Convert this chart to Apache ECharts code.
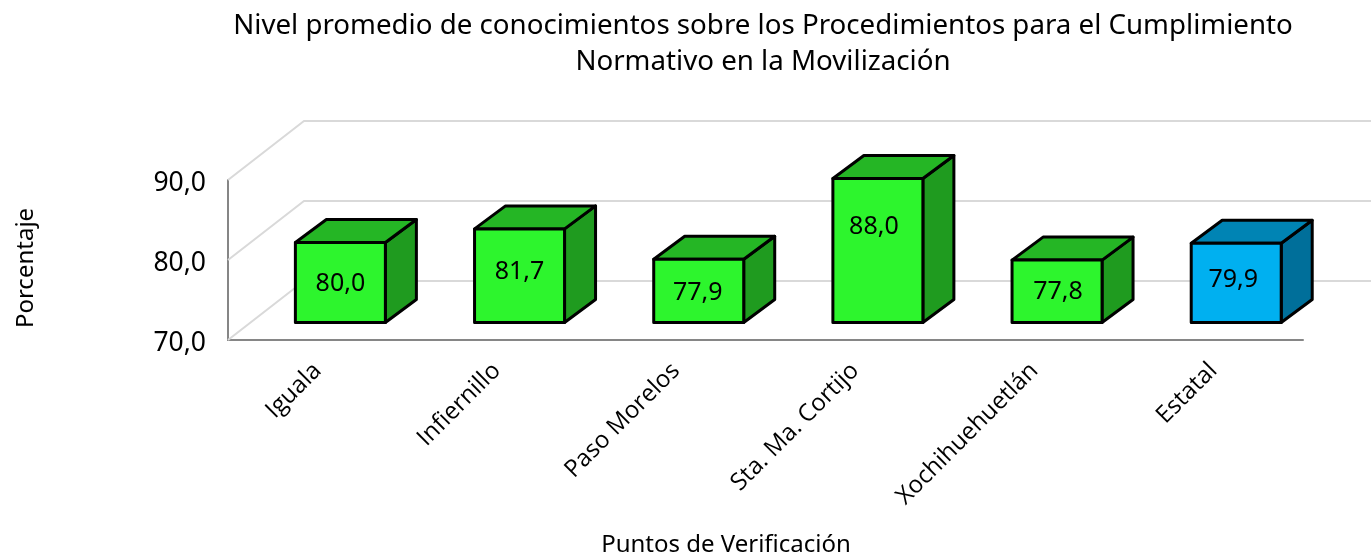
<!DOCTYPE html>
<html>
<head>
<meta charset="utf-8">
<style>
  html, body { margin: 0; padding: 0; background: #fff; }
  #chart { width: 1371px; height: 557px; }
</style>
<script src="https://cdn.jsdelivr.net/npm/echarts@6/dist/echarts.min.js"></script>
</head>
<body>
<div id="chart"></div>
<script>
var categories = ['Iguala', 'Infiernillo', 'Paso Morelos', 'Sta. Ma. Cortijo', 'Xochihuehuetlán', 'Estatal'];
var values = [80.0, 81.7, 77.9, 88.0, 77.8, 79.9];
var yTicks = [70, 80, 90];

var font = '"Noto Sans", sans-serif';
var labelFont = '"Open Sans", sans-serif';

// the 3d look: back wall offset and bar depth, in pixels
var wallDx = 76, wallDy = 59;
var barDx = 31, barDy = 23;
var barShiftX = 22.8, barShiftY = 17.5, barHalf = 45;
// where the original sits each value label, relative to the bar face centre
var labelNudge = [[0, 1], [0, -4], [-1, 2], [-4, -24], [1, 1], [-3, -3]];

var green = { front: '#2df52d', top: '#25b625', side: '#1f9b1f' };
var blue = { front: '#00b0f0', top: '#0084b4', side: '#006f9a' };

function renderWall(params, api) {
  var v = api.value(1);
  var start = api.coord([0, v]);
  var band = api.size([1, 0])[0];
  var x0 = start[0] - band / 2;
  var y0 = start[1];
  var x1 = x0 + wallDx;
  var y1 = y0 - wallDy;
  var x2 = x0 + band * categories.length + wallDx;
  return {
    type: 'polyline',
    shape: { points: [[x0, y0], [x1, y1], [x2, y1]] },
    style: { fill: null, stroke: '#d9d9d9', lineWidth: 2 }
  };
}

function renderBar(params, api) {
  var i = api.value(0);
  var val = api.value(1);
  var top = api.coord([i, val]);
  var base = api.coord([i, yTicks[0]]);
  var cx = top[0] + barShiftX;
  var l = cx - barHalf, r = cx + barHalf;
  var t = top[1] - barShiftY, b = base[1] - barShiftY;
  var c = categories[i] === 'Estatal' ? blue : green;
  var edge = { stroke: '#000', lineWidth: 3, lineJoin: 'round' };
  var nudge = labelNudge[i];
  return {
    type: 'group',
    children: [
      { type: 'polygon', shape: { points: [[r, t], [r + barDx, t - barDy], [r + barDx, b - barDy], [r, b]] },
        style: Object.assign({ fill: c.side }, edge) },
      { type: 'polygon', shape: { points: [[l, t], [l + barDx, t - barDy], [r + barDx, t - barDy], [r, t]] },
        style: Object.assign({ fill: c.top }, edge) },
      { type: 'rect', shape: { x: l, y: t, width: r - l, height: b - t },
        style: Object.assign({ fill: c.front }, edge) },
      { type: 'text',
        style: {
          x: cx + nudge[0], y: (t + b) / 2 + nudge[1],
          text: val.toFixed(1).replace('.', ','),
          fill: '#000', font: '25px ' + font, align: 'center', verticalAlign: 'middle'
        } }
    ]
  };
}

var chart = echarts.init(document.getElementById('chart'), null, { renderer: 'canvas' });
chart.setOption({
  animation: false,
  backgroundColor: '#fff',
  title: {
    text: 'Nivel promedio de conocimientos sobre los Procedimientos para el Cumplimiento\nNormativo en la Movilización',
    left: 758,
    top: 3,
    textAlign: 'center',
    textStyle: { fontFamily: font, fontSize: 27.7, fontWeight: 'normal', color: '#000', lineHeight: 36 }
  },
  grid: { left: 228, right: 68, top: 180, bottom: 217 },
  xAxis: {
    type: 'category',
    data: categories,
    axisTick: { show: false },
    axisLine: { lineStyle: { color: '#868686', width: 2 } },
    axisLabel: { rotate: 45, interval: 0, margin: 27, fontFamily: labelFont, fontSize: 24, color: '#000' }
  },
  yAxis: {
    type: 'value',
    min: 70,
    max: 90,
    interval: 10,
    splitLine: { show: false },
    axisTick: { show: false },
    axisLine: { show: true, lineStyle: { color: '#868686', width: 2 } },
    axisLabel: {
      margin: 22,
      formatter: function (v) { return '{t|' + v.toFixed(1).replace('.', ',') + '}'; },
      rich: {
        t: { fontFamily: font, fontSize: 26.5, color: '#000', padding: [6, 0, 0, 0] }
      }
    }
  },
  graphic: [
    { type: 'text', x: 26, y: 268, rotation: Math.PI / 2,
      style: { text: 'Porcentaje', font: '24px ' + font, fill: '#000', align: 'center', verticalAlign: 'middle' } },
    { type: 'text', x: 726, y: 545,
      style: { text: 'Puntos de Verificación', font: '24px ' + font, fill: '#000', align: 'center', verticalAlign: 'middle' } }
  ],
  series: [
    {
      type: 'custom',
      z: 1,
      silent: true,
      renderItem: renderWall,
      data: yTicks.map(function (v) { return [0, v]; })
    },
    {
      type: 'custom',
      z: 2,
      renderItem: renderBar,
      data: values.map(function (v, i) { return [i, v]; })
    }
  ]
});
</script>
</body>
</html>
